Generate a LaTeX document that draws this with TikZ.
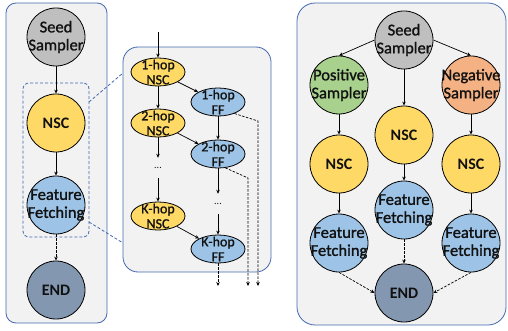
\documentclass[tikz,border=0pt]{standalone}
\usepackage{fontspec}
\setmainfont{Carlito}
\newfontfamily\semifont[FakeBold=1.2]{Carlito}
\usetikzlibrary{shapes.geometric,arrows.meta}
\definecolor{panelfill}{HTML}{F2F2F2}
\definecolor{panelline}{HTML}{4468B0}
\definecolor{cgray}{HTML}{BFBFBF}
\definecolor{cyel}{HTML}{FFD966}
\definecolor{cblue}{HTML}{9DC3E6}
\definecolor{cgreen}{HTML}{A9D18E}
\definecolor{corange}{HTML}{F4B183}
\definecolor{cend}{HTML}{8497B0}
\definecolor{txt}{HTML}{111111}
\begin{document}
\begin{tikzpicture}[x=1pt,y=-1pt,
  panel/.style={draw=panelline,fill=panelfill,line width=0.8pt,inner sep=0pt},
  grpbox/.style={draw=panelline,line width=0.8pt,dash pattern=on 3pt off 2pt,rounded corners=6pt,inner sep=0pt},
  bigc/.style={circle,draw=black,line width=0.8pt,minimum size=58pt,inner sep=0pt},
  ell/.style={ellipse,draw=black,line width=0.8pt,minimum width=54pt,minimum height=28pt,inner sep=0pt},
  lab/.style={align=center,inner sep=0pt,text=txt,font=\semifont\fontsize{16.5}{18}\selectfont},
  labb/.style={align=center,inner sep=0pt,text=txt,font=\fontsize{16}{18}\selectfont\bfseries},
  labs/.style={align=center,inner sep=0pt,text=txt,font=\semifont\fontsize{14}{15}\selectfont},
  dots/.style={inner sep=0pt,minimum height=20pt,text=txt,font=\fontsize{10}{10}\selectfont},
  arr/.style={draw=black,line width=0.7pt,-{Stealth[length=4pt,width=3.5pt]}},
  darr/.style={arr,dash pattern=on 2.5pt off 1.5pt},
  dline/.style={draw=black,line width=0.7pt,dash pattern=on 2.5pt off 1.5pt},
  conn/.style={draw=panelline,line width=0.8pt,dash pattern=on 3pt off 2pt}
]
\useasboundingbox (0,0) rectangle (508,331);

% ---------- left panel ----------
\node[panel,minimum width=101pt,minimum height=320pt,rounded corners=10pt] (lp) at (56.5,163) {};
\node[bigc,fill=cgray,label={[lab]center:{Seed\\Sampler}}] (ls) at (56,37) {};
\node[bigc,fill=cyel,label={[labb]center:NSC}] (ln) at (56,123) {};
\node[bigc,fill=cblue,label={[lab]center:{Feature\\Fetching}}] (lf) at (56,205) {};
\node[bigc,fill=cend,label={[labb]center:END}] (le) at (56,290) {};
\node[grpbox,minimum width=66pt,minimum height=154pt] (grp) at (56,160) {};
\draw[arr] (ls) -- (ln);
\draw[arr] (ln) -- (lf);
\draw[darr] (lf) -- (le);

% ---------- middle panel ----------
\node[panel,minimum width=148pt,minimum height=225pt,rounded corners=15pt] (mp) at (197,159.5) {};
\node[ell,fill=cyel,label={[labs]center:{1-hop\\NSC}}] (n1) at (158,72) {};
\node[ell,fill=cblue,label={[labs]center:{1-hop\\FF}}] (f1) at (218,102) {};
\node[ell,fill=cyel,label={[labs]center:{2-hop\\NSC}}] (n2) at (158,123) {};
\node[ell,fill=cblue,label={[labs]center:{2-hop\\FF}}] (f2) at (218,154) {};
\node[dots] (nd) at (158,168) {...};
\node[dots] (fd) at (218,204) {...};
\node[ell,fill=cyel,label={[labs]center:{K-hop\\NSC}}] (nK) at (158,216) {};
\node[ell,fill=cblue,label={[labs]center:{K-hop\\FF}}] (fK) at (218,249) {};
\coordinate (in) at (158,32);
\coordinate (o1) at (218,286);
\coordinate (o2) at (248,286);
\coordinate (o3) at (258,286);
\coordinate (b1) at (258,121);
\coordinate (b2) at (248,178);
\draw[arr] (in) -- (n1);
\draw[arr] (n1) -- (n2);
\draw[arr] (n2) -- (nd);
\draw[arr] (nd) -- (nK);
\draw[arr] (n1) -- (f1);
\draw[arr] (n2) -- (f2);
\draw[arr] (nK) -- (fK);
\draw[arr] (f1) -- (f2);
\draw[arr] (f2) -- (fd);
\draw[arr] (fd) -- (fK);
\draw[darr] (fK) -- (o1);
\draw[dline,-{Stealth[length=4pt,width=3.5pt]}] (f1.-35) -- (b1) -- (o3);
\draw[dline,-{Stealth[length=4pt,width=3.5pt]}] (f2.-62) -- (b2) -- (o2);

% connectors between left group and middle panel
\coordinate (g1) at (89,102);
\coordinate (m1) at (123,73);
\coordinate (g2) at (89,222);
\coordinate (m2) at (123,243);
\draw[conn] (g1) -- (m1);
\draw[conn] (g2) -- (m2);

% ---------- right panel ----------
\node[panel,minimum width=209pt,minimum height=322pt,rounded corners=18pt] (rp) at (401.5,164) {};
\node[bigc,fill=cgray,label={[lab]center:{Seed\\Sampler}}] (rs) at (404,40) {};
\node[bigc,fill=cgreen,label={[lab]center:{Positive\\Sampler}}] (pos) at (339,85) {};
\node[bigc,fill=corange,label={[lab]center:{Negative\\Sampler}}] (neg) at (471,85) {};
\node[bigc,fill=cyel,label={[labb]center:NSC}] (rn) at (404,135) {};
\node[bigc,fill=cyel,label={[labb]center:NSC}] (pn) at (339,164) {};
\node[bigc,fill=cyel,label={[labb]center:NSC}] (nn) at (471,164) {};
\node[bigc,fill=cblue,label={[lab]center:{Feature\\Fetching}}] (rf) at (404,210) {};
\node[bigc,fill=cblue,label={[lab]center:{Feature\\Fetching}}] (pf) at (339,243) {};
\node[bigc,fill=cblue,label={[lab]center:{Feature\\Fetching}}] (nf) at (471,243) {};
\node[bigc,fill=cend,label={[labb]center:END}] (re) at (404,293) {};
\draw[arr] (rs.west) -- (pos.north);
\draw[arr] (rs.east) -- (neg.north);
\draw[arr] (rs) -- (rn);
\draw[arr] (pos) -- (pn);
\draw[arr] (neg) -- (nn);
\draw[arr] (rn) -- (rf);
\draw[arr] (pn) -- (pf);
\draw[arr] (nn) -- (nf);
\draw[darr] (rf) -- (re);
\draw[darr] (pf.south) -- (re.west);
\draw[darr] (nf.south) -- (re.east);
\end{tikzpicture}
\end{document}
